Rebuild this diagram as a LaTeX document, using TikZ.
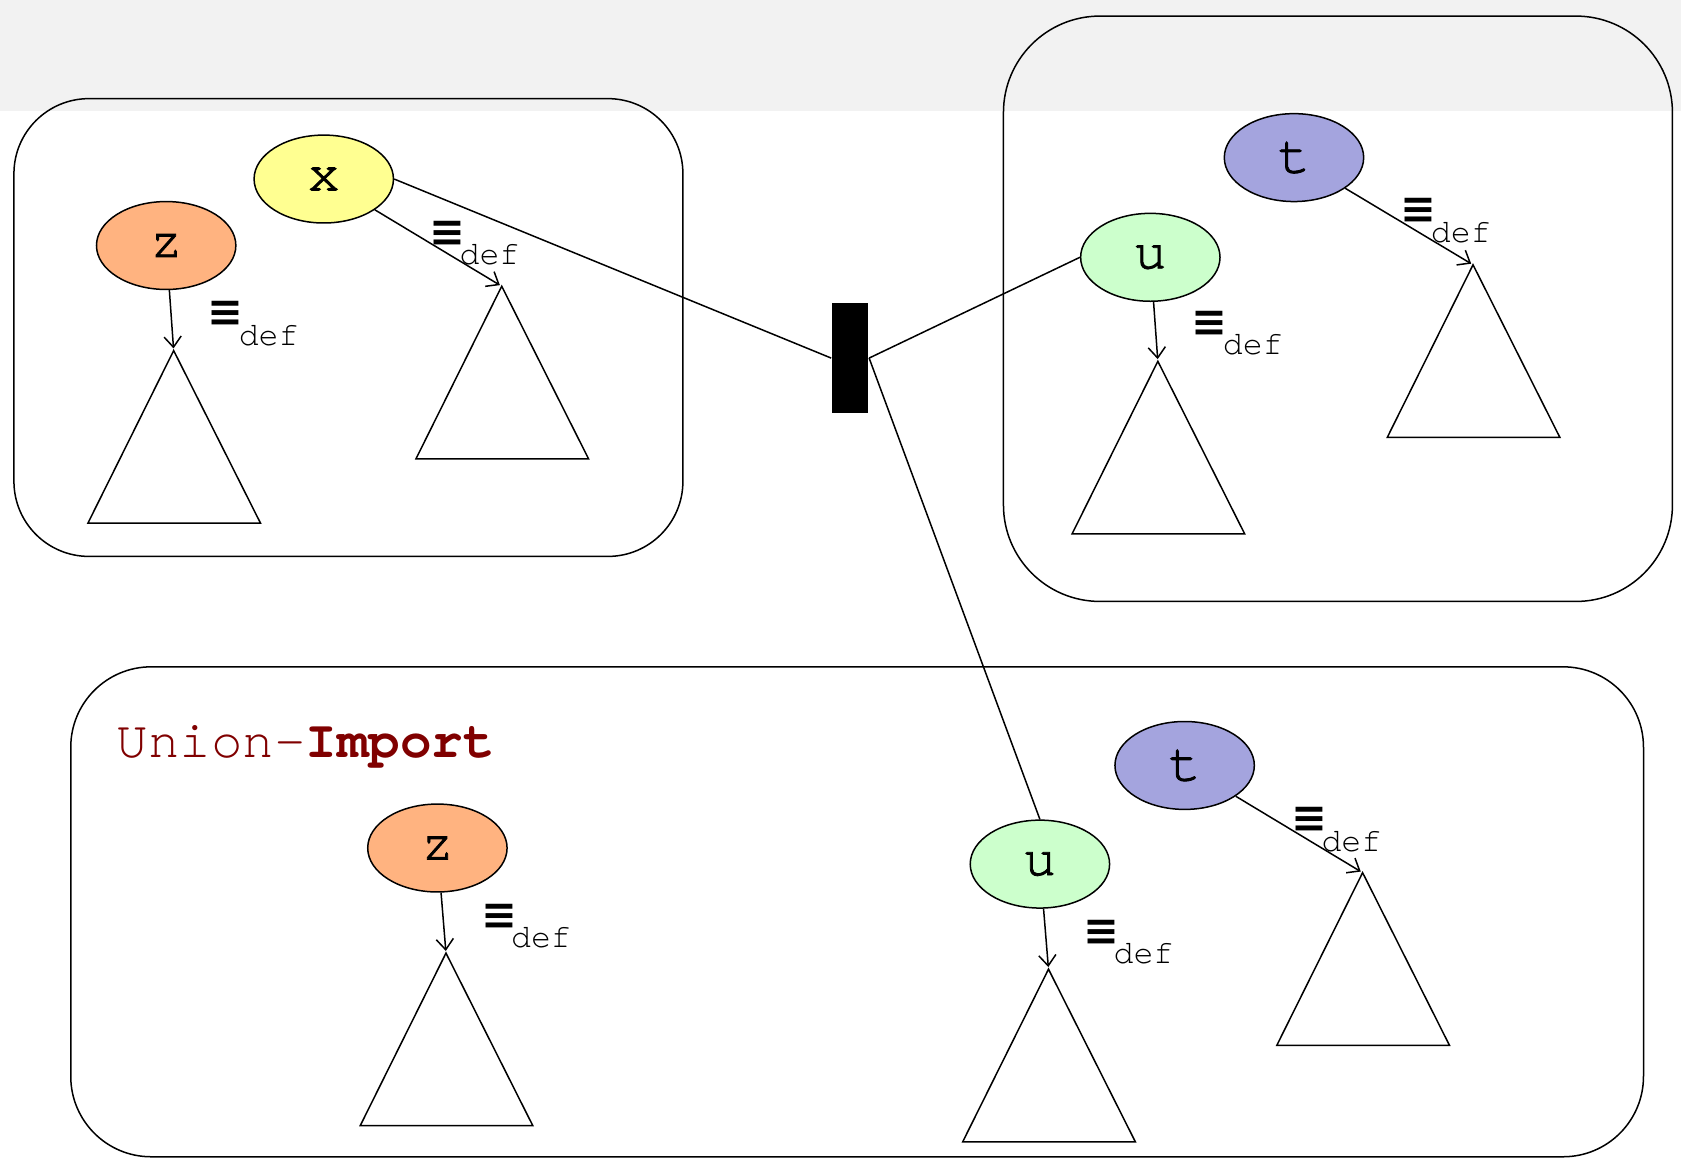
\documentclass[tikz,border=0pt]{standalone}
\usepackage{fontspec}
\usetikzlibrary{shapes.geometric,arrows.meta}
\newfontfamily\eqf{DejaVu Sans}
\newfontfamily\cour{TeX Gyre Cursor}
\newfontfamily\courm{TeX Gyre Cursor}[FakeBold=1.5]
\definecolor{greyband}{HTML}{F2F2F2}
\definecolor{zcol}{HTML}{FFB380}
\definecolor{xcol}{HTML}{FFFF91}
\definecolor{ucol}{HTML}{CCFFCC}
\definecolor{tcol}{HTML}{A4A4DE}
\definecolor{titlecol}{HTML}{800000}
\newcommand\mytri[3]{\coordinate (#1) at (#2,#3); \draw[tri] (#1) -- ++(-80,161) -- ++(161,0) -- cycle;}
\begin{document}
\begin{tikzpicture}[x=1pt,y=-1pt,line width=1.4pt,
  el/.style={ellipse,draw,minimum width=130pt,minimum height=82pt,inner sep=0pt,font=\courm\fontsize{51}{51}\selectfont},
  box/.style={draw},
  tri/.style={draw,line join=miter},
  arr/.style={-{Straight Barb[length=10pt,width=16pt]},shorten >=2pt},
  eqs/.style={inner sep=0pt,anchor=west,font=\eqf\bfseries\fontsize{40}{40}\selectfont},
  defs/.style={inner sep=0pt,anchor=base west,font=\cour\fontsize{31}{31}\selectfont}]
\useasboundingbox (0,0) rectangle (1568,1082);
\fill[greyband] (0,0) rectangle (1568,104);
% boxes
\draw[box,rounded corners=70pt] (13,92) rectangle (637,519);
\draw[box,rounded corners=90pt] (936,15) rectangle (1560,561);
\draw[box,rounded corners=75pt] (66,622) rectangle (1533,1079);
% title
\node[inner sep=0pt,anchor=base west,text=titlecol,font=\cour\fontsize{49}{49}\selectfont] (title) at (108,707) {Union-\textbf{Import}};
% triangles
\mytri{tz1}{162}{327}
\mytri{tx1}{468}{267}
\mytri{tu1}{1080}{337}
\mytri{tt1}{1374}{247}
\mytri{tz2}{416}{889}
\mytri{tu2}{978}{904}
\mytri{tt2}{1271}{814}
% ellipses
\node[el,fill=zcol] (z1) at (155,229) {z};
\node[el,fill=xcol] (x1) at (302,167) {x};
\node[el,fill=ucol] (u1) at (1073,240) {u};
\node[el,fill=tcol] (t1) at (1207,147) {t};
\node[el,fill=zcol] (z2) at (408,791) {z};
\node[el,fill=ucol] (u2) at (970,806) {u};
\node[el,fill=tcol] (t2) at (1105,714) {t};
% bar
\node[fill=black,draw=none,minimum width=34pt,minimum height=102pt,inner sep=0pt] (bar) at (793,334) {};
% connectors
\draw (x1.east) -- (bar.west);
\draw (bar.east) -- (u1.west);
\draw (bar.east) -- (u2.north);
\draw[arr] (z1) -- (tz1);
\draw[arr] (x1) -- (tx1);
\draw[arr] (u1) -- (tu1);
\draw[arr] (t1) -- (tt1);
\draw[arr] (z2) -- (tz2);
\draw[arr] (u2) -- (tu2);
\draw[arr] (t2) -- (tt2);
% labels
\node[eqs] (e1) at (193,293) {≡};  \node[defs] (d1) at (222,322) {def};
\node[eqs] (e2) at (400,218) {≡};  \node[defs] (d2) at (428,247) {def};
\node[eqs] (e3) at (1111,302) {≡}; \node[defs] (d3) at (1140,331) {def};
\node[eqs] (e4) at (1306,197) {≡}; \node[defs] (d4) at (1334,226) {def};
\node[eqs] (e5) at (448,855) {≡};  \node[defs] (d5) at (476,884) {def};
\node[eqs] (e6) at (1010,870) {≡}; \node[defs] (d6) at (1038,899) {def};
\node[eqs] (e7) at (1204,765) {≡}; \node[defs] (d7) at (1232,794) {def};
\end{tikzpicture}
\end{document}
